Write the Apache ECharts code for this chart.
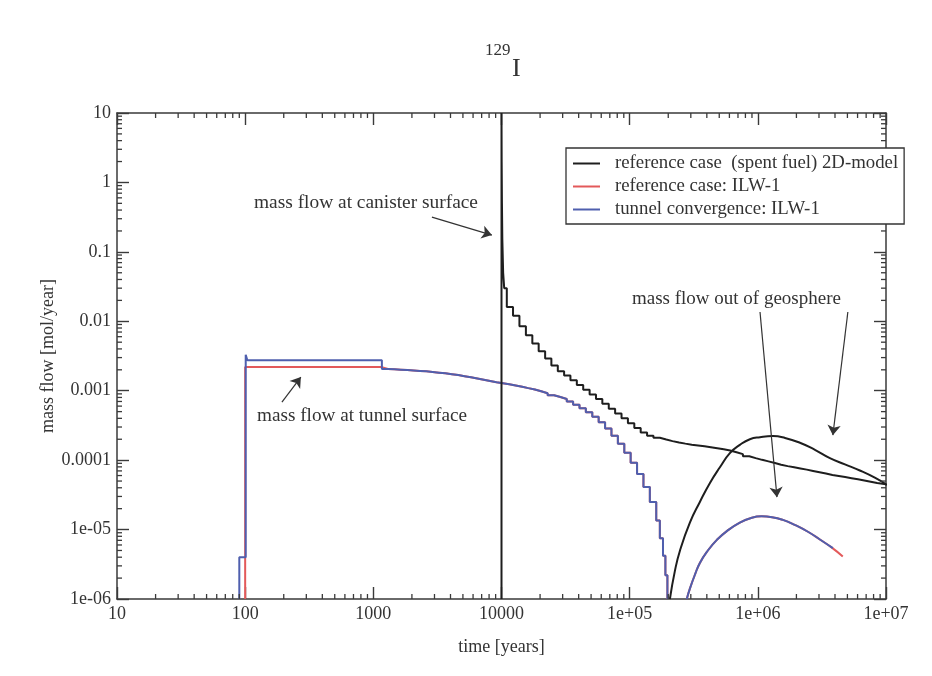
<!DOCTYPE html>
<html>
<head>
<meta charset="utf-8">
<script src="https://cdn.jsdelivr.net/npm/echarts@6/dist/echarts.min.js"></script>
<style>
  html, body { margin: 0; padding: 0; background: #ffffff; }
  #chart { width: 932px; height: 676px; }
</style>
</head>
<body>
<div id="chart"></div>
<script>
// ---- axis tick labels -------------------------------------------------
const xTickLabels = ['10', '100', '1000', '10000', '1e+05', '1e+06', '1e+07'];
const yTickLabels = ['1e-06', '1e-05', '0.0001', '0.001', '0.01', '0.1', '1', '10'];

const legendNames = [
  'reference case  (spent fuel) 2D-model',
  'reference case: ILW-1',
  'tunnel convergence: ILW-1'
];

// ---- mass flow at canister surface, spent fuel (stepped output) -------
const canisterTime = [
  10000, 10000, 10030, 10080, 10150, 10300, 10500, 11000, 12300, 13800,
  15500, 17400, 19500, 21900, 24500, 27500, 30800, 34500, 38700, 43400,
  48700, 54600, 61200, 68700, 77000, 86400, 96900, 108700, 121900, 136700,
  153300, 172000, 193000, 216000, 243000, 272000, 305000, 342000, 384000, 430000,
  483000, 542000, 608000, 682000, 765000, 858000, 962000, 1080000, 1210000, 1360000,
  1520000, 1710000, 1920000, 2150000, 2410000, 2700000, 3030000, 3400000, 3820000, 4280000,
  4800000, 5390000, 6040000, 6780000, 7600000, 8530000, 10000000
];
const canisterFlow = [
  1e-6, 10, 2.0, 0.5, 0.15, 0.05, 0.03, 0.016, 0.012, 0.0085,
  0.0063, 0.0048, 0.0037, 0.0029, 0.0023, 0.0019, 0.00165, 0.00141, 0.00121, 0.00103,
  0.00088, 0.00076, 0.00065, 0.00055, 0.00047, 0.00040, 0.00034, 0.00029, 0.00025, 0.000225,
  0.000210, 0.000198, 0.000188, 0.000180, 0.000173, 0.000167, 0.000163, 0.000158, 0.000153, 0.000148,
  0.000143, 0.000138, 0.000130, 0.000122, 0.000114, 0.000107, 0.000101, 0.000096, 0.000091, 0.000086,
  0.000082, 0.000079, 0.000076, 0.000073, 0.000070, 0.000067, 0.000064, 0.000061, 0.000059, 0.000057,
  0.000055, 0.000053, 0.000051, 0.000049, 0.000047, 0.000045, 0.000043
];

// ---- mass flow out of geosphere, spent fuel ---------------------------
const geoSpentTime = [
  206000, 225000, 247000, 295000, 353000, 423000, 506000, 605000, 724000, 867000,
  1040000, 1310000, 1630000, 2130000, 2790000, 3650000, 4780000, 6250000, 8180000, 10000000
];
const geoSpentFlow = [
  1e-6, 2.5e-6, 5.0e-6, 1.26e-5, 2.5e-5, 4.7e-5, 7.9e-5, 1.26e-4, 1.66e-4, 2.0e-4,
  2.14e-4, 2.22e-4, 2.09e-4, 1.78e-4, 1.41e-4, 1.07e-4, 8.7e-5, 7.1e-5, 5.6e-5, 4.5e-5
];

// ---- mass flow at tunnel surface, ILW-1 -------------------------------
const refTunnelHeadTime = [100, 100, 1166];
const refTunnelHeadFlow = [1e-6, 2.19e-3, 2.05e-3];

const convTunnelHeadTime = [90, 90, 101, 104, 1166];
const convTunnelHeadFlow = [1e-6, 4e-6, 3.3e-3, 2.75e-3, 2.05e-3];

// common decline after the release step (both ILW-1 cases)
const tunnelTailTime = [
  1300, 1460, 1640, 1840, 2060, 2310, 2590, 2900, 3250, 3650,
  4100, 4600, 5150, 5780, 6480, 7270, 8150, 9140, 10250, 11500,
  12900, 14500, 16200, 18200, 20400, 22900, 25700, 28800, 32300, 36200,
  40600, 45500, 51100, 57300, 64300, 72100, 80900, 90800, 101800, 114200,
  128100, 143700, 161200, 172000, 182000, 190000, 197000
];
const tunnelTailFlow = [
  2.03e-3, 2.01e-3, 1.99e-3, 1.96e-3, 1.93e-3, 1.9e-3, 1.86e-3, 1.82e-3, 1.78e-3, 1.73e-3,
  1.68e-3, 1.62e-3, 1.56e-3, 1.5e-3, 1.44e-3, 1.38e-3, 1.32e-3, 1.28e-3, 1.24e-3, 1.19e-3,
  1.14e-3, 1.09e-3, 1.04e-3, 9.8e-4, 9.2e-4, 8.6e-4, 8.1e-4, 7.6e-4, 7.0e-4, 6.3e-4,
  5.6e-4, 4.9e-4, 4.2e-4, 3.5e-4, 2.85e-4, 2.25e-4, 1.72e-4, 1.28e-4, 9.2e-5, 6.3e-5,
  4.1e-5, 2.5e-5, 1.35e-5, 7.5e-6, 4.2e-6, 2.2e-6, 1e-6
];

// ---- mass flow out of geosphere, ILW-1 --------------------------------
const geoRefTime = [
  279000, 295000, 323000, 353000, 408000, 479000, 573000, 724000, 898000, 1070000,
  1290000, 1570000, 1940000, 2460000, 3050000, 3780000, 4600000
];
const geoRefFlow = [
  1e-6, 1.41e-6, 2.24e-6, 3.31e-6, 5.0e-6, 7.1e-6, 9.5e-6, 1.26e-5, 1.48e-5, 1.55e-5,
  1.51e-5, 1.38e-5, 1.17e-5, 9.3e-6, 7.2e-6, 5.5e-6, 4.1e-6
];
const geoConvTime = [
  279000, 295000, 323000, 353000, 408000, 479000, 573000, 724000, 898000, 1070000,
  1290000, 1570000, 1940000, 2460000, 3050000, 3850000
];
const geoConvFlow = [
  1e-6, 1.41e-6, 2.24e-6, 3.31e-6, 5.0e-6, 7.1e-6, 9.5e-6, 1.26e-5, 1.48e-5, 1.55e-5,
  1.51e-5, 1.38e-5, 1.17e-5, 9.3e-6, 7.2e-6, 5.4e-6
];

// minor tick positions (2..9 x 10^k)
const xMinorTicks = [];
for (let k = 1; k <= 6; k++) for (let m = 2; m <= 9; m++) xMinorTicks.push(m * Math.pow(10, k));
const yMinorTicks = [];
for (let k = -6; k <= 0; k++) for (let m = 2; m <= 9; m++) yMinorTicks.push(m * Math.pow(10, k));

// ---------------------------------------------------------------------
const SERIF = 'Liberation Serif, DejaVu Serif, serif';
const AXIS = '#3a3a3a';
const BLACK = '#1e1e1e';
const RED = '#e3595a';
const BLUE = '#4f5fae';

const zip = (a, b) => a.map((v, i) => [v, b[i]]);

function lineSeries(name, color, data, opts) {
  return Object.assign({
    type: 'line',
    name: name,
    data: data,
    showSymbol: false,
    symbol: 'none',
    color: color,
    itemStyle: { color: color },
    lineStyle: { color: color, width: 2 },
    emphasis: { disabled: true },
    silent: true
  }, opts || {});
}

function minorTicks(axis, values) {
  return {
    type: 'custom',
    silent: true,
    clip: false,
    z: 6,
    data: values.map(v => axis === 'x' ? [v, 1] : [100, v]),
    renderItem(params, api) {
      const cs = params.coordSys;
      const p = api.coord([api.value(0), api.value(1)]);
      const L = 5;
      const style = { stroke: AXIS, lineWidth: 1.3 };
      if (axis === 'x') {
        const yb = cs.y + cs.height, yt = cs.y;
        return { type: 'group', children: [
          { type: 'line', shape: { x1: p[0], y1: yb, x2: p[0], y2: yb - L }, style },
          { type: 'line', shape: { x1: p[0], y1: yt, x2: p[0], y2: yt + L }, style }
        ] };
      }
      const xl = cs.x, xr = cs.x + cs.width;
      return { type: 'group', children: [
        { type: 'line', shape: { x1: xl, y1: p[1], x2: xl + L, y2: p[1] }, style },
        { type: 'line', shape: { x1: xr, y1: p[1], x2: xr - L, y2: p[1] }, style }
      ] };
    }
  };
}

const axisCommon = {
  type: 'log',
  logBase: 10,
  splitLine: { show: false },
  axisLine: { show: true, onZero: false, lineStyle: { color: AXIS, width: 1.5 } },
  axisTick: { show: true, inside: true, length: 12, lineStyle: { color: AXIS, width: 1.4 } }
};

const chart = echarts.init(document.getElementById('chart'), null, { renderer: 'canvas' });

chart.setOption({
  animation: false,
  backgroundColor: '#ffffff',
  grid: { left: 117, top: 113, width: 769, height: 486, containLabel: false },
  xAxis: [
    Object.assign({}, axisCommon, {
      position: 'bottom',
      min: 10, max: 1e7,
      name: 'time [years]',
      nameLocation: 'middle',
      nameGap: 39,
      nameTextStyle: { fontFamily: SERIF, fontSize: 18, color: '#333' },
      axisLabel: {
        fontFamily: SERIF, fontSize: 18, color: '#333', margin: 6,
        formatter: v => xTickLabels[Math.round(Math.log10(v)) - 1]
      }
    }),
    Object.assign({}, axisCommon, {
      position: 'top',
      min: 10, max: 1e7,
      axisLabel: { show: false }
    })
  ],
  yAxis: [
    Object.assign({}, axisCommon, {
      position: 'left',
      min: 1e-6, max: 10,
      name: 'mass flow [mol/year]',
      nameLocation: 'middle',
      nameGap: 60,
      nameMoveOverlap: false,
      nameTextStyle: { fontFamily: SERIF, fontSize: 18, color: '#333' },
      axisLabel: {
        fontFamily: SERIF, fontSize: 18, color: '#333', margin: 6,
        formatter: v => yTickLabels[Math.round(Math.log10(v)) + 6]
      }
    }),
    Object.assign({}, axisCommon, {
      position: 'right',
      min: 1e-6, max: 10,
      axisLabel: { show: false }
    })
  ],
  legend: {
    left: 566,
    top: 148,
    orient: 'vertical',
    selectedMode: false,
    data: legendNames.map(n => ({ name: n, icon: 'rect' })),
    itemWidth: 27,
    itemHeight: 2,
    itemGap: 4,
    padding: [6, 6, 5, 7],
    borderColor: '#333',
    borderWidth: 1.3,
    backgroundColor: '#ffffff',
    z: 20,
    textStyle: { fontFamily: SERIF, fontSize: 18.8, color: '#333', padding: [0, 0, 0, 10] }
  },
  graphic: [
    { type: 'text', left: 485, top: 42, style: { text: '129', font: '17px ' + SERIF, fill: '#333' } },
    { type: 'text', left: 512, top: 56, style: { text: 'I', font: '26px ' + SERIF, fill: '#333' } },
    { type: 'text', left: 254, top: 193, style: { text: 'mass flow at canister surface', font: '19.4px ' + SERIF, fill: '#333' } },
    { type: 'text', left: 257, top: 406, style: { text: 'mass flow at tunnel surface', font: '19.2px ' + SERIF, fill: '#333' } },
    { type: 'text', left: 632, top: 290, style: { text: 'mass flow out of geosphere', font: '19px ' + SERIF, fill: '#333' } }
  ],
  series: [
    minorTicks('x', xMinorTicks),
    minorTicks('y', yMinorTicks),
    lineSeries(legendNames[1], RED, zip(refTunnelHeadTime.concat(tunnelTailTime), refTunnelHeadFlow.concat(tunnelTailFlow)), { step: 'end', z: 2 }),
    lineSeries(legendNames[1], RED, zip(geoRefTime, geoRefFlow), { smooth: 0.5, z: 2 }),
    lineSeries(legendNames[2], BLUE, zip(convTunnelHeadTime.concat(tunnelTailTime), convTunnelHeadFlow.concat(tunnelTailFlow)), { step: 'end', z: 3 }),
    lineSeries(legendNames[2], BLUE, zip(geoConvTime, geoConvFlow), { smooth: 0.5, z: 3 }),
    lineSeries(legendNames[0], BLACK, zip(geoSpentTime, geoSpentFlow), { smooth: 0.5, z: 4 }),
    lineSeries(legendNames[0], BLACK, zip(canisterTime, canisterFlow), {
      step: 'end', z: 4,
      markLine: {
        silent: true,
        symbol: ['none', 'arrow'],
        symbolSize: 10,
        label: { show: false },
        emphasis: { disabled: true },
        lineStyle: { color: '#333', width: 1.2, type: 'solid' },
        data: [
          [{ coord: [2865, 0.317] }, { coord: [8414, 0.1746] }],
          [{ coord: [193.6, 6.86e-4] }, { coord: [272, 1.57e-3] }],
          [{ coord: [1.04e6, 0.0136] }, { coord: [1.41e6, 2.93e-5] }],
          [{ coord: [5.04e6, 0.0136] }, { coord: [3.85e6, 2.29e-4] }]
        ]
      }
    })
  ]
});
</script>
</body>
</html>
